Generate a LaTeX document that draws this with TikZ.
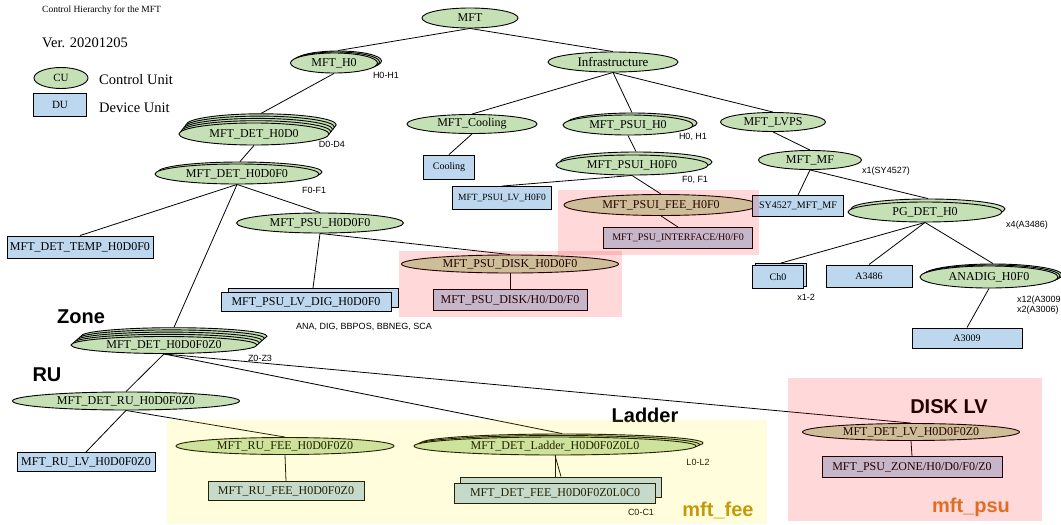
\documentclass[tikz,border=0pt]{standalone}
\usepackage{fontspec}
\setmainfont{Liberation Serif}
\newfontfamily\labelsans{Liberation Sans}
\usetikzlibrary{shapes.geometric}

\definecolor{cugreen}{HTML}{C5E0B4}
\definecolor{dublue}{HTML}{BDD7EE}
\definecolor{feegold}{HTML}{C49A0C}
\definecolor{psuorange}{HTML}{DF6E22}

\pgfdeclarelayer{background}
\pgfdeclarelayer{foreground}
\pgfsetlayers{background,main,foreground}

\tikzset{
  sz/.style 2 args={minimum width=#1pt, minimum height=#2pt},
  cu/.style={ellipse, draw=black, fill=cugreen, line width=0.9pt, inner sep=0pt,
             font=\fontsize{12}{12}\selectfont},
  du/.style={rectangle, draw=black, fill=dublue, line width=0.9pt, inner sep=0pt,
             font=\fontsize{12}{12}\selectfont},
  dusmall/.style={du, font=\fontsize{10}{10}\selectfont},
  link/.style={draw=black, line width=0.8pt},
  tag/.style={font=\labelsans\fontsize{9}{9}\selectfont, inner sep=0pt},
  level/.style={font=\labelsans\bfseries\fontsize{20}{20}\selectfont, inner sep=0pt},
  legendtxt/.style={anchor=west, inner sep=0pt, font=\fontsize{14.5}{14.5}\selectfont},
  pinkveil/.style={fill=red, fill opacity=0.15, draw=none},
  yellowveil/.style={fill=yellow, fill opacity=0.14, draw=none},
}

\begin{document}
\begin{tikzpicture}[x=1pt, y=-1pt]
\useasboundingbox (0,0) rectangle (1061,525);
\begin{pgfonlayer}{background}
  \fill[white] (0,0) rectangle (1061,525);
\end{pgfonlayer}

% ---------- heading and legend ----------
\node[anchor=west, inner sep=0pt, font=\fontsize{9.5}{9.5}\selectfont] (title) at (42,10) {Control Hierarchy for the MFT};
\node[legendtxt] (ver) at (42,43) {Ver. 20201205};
\node[cu, sz={54}{21}, font=\fontsize{11}{11}\selectfont] (legcu) at (61,78) {CU};
\node[legendtxt] (legcutxt) at (99,80) {Control Unit};
\node[du, sz={53}{23}, font=\fontsize{11}{11}\selectfont] (legdu) at (60,105) {DU};
\node[legendtxt] (legdutxt) at (99,108) {Device Unit};

% ---------- top of the tree ----------
\node[cu, sz={96}{20}] (mft) at (470,18) {MFT};

\node[cu, sz={87}{20}] (h0b2) at (338,61) {};
\node[cu, sz={87}{20}] (h0b1) at (336,62) {};
\node[cu, sz={87}{20}] (h0) at (334,63) {MFT\_H0};
\node[tag] (h0tag) at (386,75) {H0-H1};

\node[cu, sz={130}{20}, font=\fontsize{13}{13}\selectfont] (infra) at (613,62) {Infrastructure};

% ---------- detector branch ----------
\foreach \k in {4,3,2,1}{
  \node[cu, sz={150}{22}] (dh0d0b\k) at ({254+1.8*\k},{134-2.3*\k}) {};
}
\node[cu, sz={150}{22}] (dh0d0) at (254,134) {MFT\_DET\_H0D0};
\node[tag] (dh0d0tag) at (332,144) {D0-D4};

\node[cu, sz={164}{20}] (dh0d0f0b1) at (240,172) {};
\node[cu, sz={164}{20}] (dh0d0f0) at (237,174) {MFT\_DET\_H0D0F0};
\node[tag] (dh0d0f0tag) at (314,190) {F0-F1};

\node[du, sz={146}{22}] (temp) at (80,247) {MFT\_DET\_TEMP\_H0D0F0};
\node[cu, sz={167}{20}] (psuh) at (320,223) {MFT\_PSU\_H0D0F0};

\node[du, sz={170}{19}] (lvdigb) at (313,298) {};
\node[du, sz={170}{19}] (lvdig) at (306,302) {MFT\_PSU\_LV\_DIG\_H0D0F0};
\node[tag] (lvdigtag) at (364,327) {ANA, DIG, BBPOS, BBNEG, SCA};

\node[cu, sz={217}{18}] (psudisk) at (510,264) {MFT\_PSU\_DISK\_H0D0F0};
\node[du, sz={154}{21}] (psudiskbox) at (510,300) {MFT\_PSU\_DISK/H0/D0/F0};

\node[level] (zonelbl) at (81,317) {Zone};
\foreach \k in {4,3,2,1}{
  \node[cu, sz={186}{17}] (zoneb\k) at ({164+2.5*\k},{345-2.2*\k}) {};
}
\node[cu, sz={186}{17}] (zone) at (164,345) {MFT\_DET\_H0D0F0Z0};
\node[tag] (zonetag) at (260,358) {Z0-Z3};

\node[level] (rulbl) at (47,375) {RU};
\node[cu, sz={227}{18}] (ru) at (126,401) {MFT\_DET\_RU\_H0D0F0Z0};
\node[du, sz={138}{19}] (rulv) at (86,462) {MFT\_RU\_LV\_H0D0F0Z0};

\node[cu, sz={218}{17}] (rufee) at (285,446) {MFT\_RU\_FEE\_H0D0F0Z0};
\node[du, sz={156}{19}] (rufeebox) at (286,491) {MFT\_RU\_FEE\_H0D0F0Z0};

\node[level] (ladderlbl) at (645,415) {Ladder};
\node[cu, sz={282}{18}] (ladderb2) at (562,443) {};
\node[cu, sz={282}{18}] (ladderb1) at (558.5,444.5) {};
\node[cu, sz={282}{18}] (ladder) at (555,446) {MFT\_DET\_Ladder\_H0D0F0Z0L0};
\node[tag] (laddertag) at (698,462) {L0-L2};
\node[du, sz={201}{20}] (detfeeb) at (561,487) {};
\node[du, sz={201}{20}] (detfee) at (555,493) {MFT\_DET\_FEE\_H0D0F0Z0L0C0};
\node[tag] (detfeetag) at (641,512) {C0-C1};

\node[level] (disklvlbl) at (949,407) {DISK LV};
\node[cu, sz={217}{17}] (detlv) at (911,432) {MFT\_DET\_LV\_H0D0F0Z0};
\node[du, sz={180}{21}] (psuzone) at (912,467) {MFT\_PSU\_ZONE/H0/D0/F0/Z0};

% ---------- infrastructure branch ----------
\node[cu, sz={130}{19}] (cooling) at (472,124) {MFT\_Cooling};
\node[dusmall, sz={51}{24}] (coolbox) at (449,167) {Cooling};

\node[cu, sz={130}{20}] (psuih0b) at (632,123) {};
\node[cu, sz={130}{20}] (psuih0) at (628,125) {MFT\_PSUI\_H0};
\node[tag] (psuih0tag) at (693,137) {H0, H1};

\node[cu, sz={152}{20}] (psuih0f0b) at (636,162) {};
\node[cu, sz={152}{20}] (psuih0f0) at (632,165) {MFT\_PSUI\_H0F0};
\node[tag] (psuih0f0tag) at (695,180) {F0, F1};

\node[du, sz={99}{23}, font=\fontsize{9.5}{9.5}\selectfont] (psuilv) at (502,198) {MFT\_PSUI\_LV\_H0F0};
\node[cu, sz={194}{21}] (psuifee) at (661,205) {MFT\_PSUI\_FEE\_H0F0};
\node[dusmall, sz={149}{21}] (iface) at (678,238) {MFT\_PSU\_INTERFACE/H0/F0};

\node[cu, sz={105}{19}] (lvps) at (773,122) {MFT\_LVPS};
\node[cu, sz={103}{19}] (mf) at (810,160) {MFT\_MF};
\node[tag] (mftag) at (886,171) {x1(SY4527)};
\node[dusmall, sz={91}{21}] (sy) at (798,206) {SY4527\_MFT\_MF};

\node[cu, sz={154}{20}] (pgb) at (928,209) {};
\node[cu, sz={154}{20}] (pg) at (925,212) {PG\_DET\_H0};
\node[tag] (pgtag) at (1027,225) {x4(A3486)};

\node[dusmall, sz={51}{23}] (ch0b) at (781,275) {};
\node[dusmall, sz={51}{23}] (ch0) at (778,277) {Ch0};
\node[tag] (ch0tag) at (806,297) {x1-2};
\node[dusmall, sz={86}{22}] (a3486) at (869,276) {A3486};

\node[cu, sz={138}{22}] (anadigb2) at (993,275) {};
\node[cu, sz={138}{22}] (anadigb1) at (991,276) {};
\node[cu, sz={138}{22}] (anadig) at (989,277) {ANADIG\_H0F0};
\node[tag, anchor=west] (anadigtag1) at (1017,300) {x12(A3009};
\node[tag, anchor=west] (anadigtag2) at (1017,310) {x2(A3006)};
\node[dusmall, sz={110}{20}] (a3009) at (967,338) {A3009};

% ---------- connectors ----------
\begin{pgfonlayer}{background}
  \draw[link] (mft.south) -- (h0b2.north);
  \draw[link] (mft.south) -- (infra.north);
  \draw[link] (h0.south) -- (dh0d0b4.north);
  \draw[link] (dh0d0.south) -- (dh0d0f0b1.north);
  \draw[link] (dh0d0f0.south) -- (temp.north);
  \draw[link] (dh0d0f0.south) -- (psuh.north);
  \draw[link] (dh0d0f0.south) -- (zoneb4.north);
  \draw[link] (psuh.south) -- (lvdigb.north);
  \draw[link] (psuh.south) -- (psudisk.north);
  \draw[link] (psudisk.south) -- (psudiskbox.north);
  \draw[link] (zone.south) -- (ru.north);
  \draw[link] (zone.south) -- (ladderb2.north);
  \draw[link] (zone.south) -- (detlv.north);
  \draw[link] (ru.south) -- (rulv.north);
  \draw[link] (ru.south) -- (rufee.north);
  \draw[link] (rufee.south) -- (rufeebox.north);
  \draw[link] (ladder.south) -- (detfee.north);
  \draw[link] (ladder.south) -- (detfeeb.north);
  \draw[link] (detlv.south) -- (psuzone.north);
  \draw[link] (infra.south) -- (cooling.north);
  \draw[link] (infra.south) -- (psuih0b.north);
  \draw[link] (infra.south) -- (lvps.north);
  \draw[link] (cooling.south) -- (coolbox.north);
  \draw[link] (psuih0.south) -- (psuih0f0b.north);
  \draw[link] (psuih0f0.south) -- (psuilv.north);
  \draw[link] (psuih0f0.south) -- (psuifee.north);
  \draw[link] (psuifee.south) -- (iface.north);
  \draw[link] (lvps.south) -- (mf.north);
  \draw[link] (mf.south) -- (sy.north);
  \draw[link] (mf.south) -- (pgb.north);
  \draw[link] (pg.south) -- (ch0b.north);
  \draw[link] (pg.south) -- (a3486.north);
  \draw[link] (pg.south) -- (anadigb2.north);
  \draw[link] (anadig.south) -- (a3009.north);
\end{pgfonlayer}

% ---------- tinted groups ----------
\begin{pgfonlayer}{foreground}
  \fill[pinkveil] (558,190) rectangle (759,255);
  \fill[pinkveil] (399,251) rectangle (622,317);
  \fill[pinkveil] (788,378) rectangle (1042,521);
  \fill[yellowveil] (167,420) rectangle (767,524);
  \node[level, text=feegold] (feelbl) at (718,510) {mft\_fee};
  \node[level, text=psuorange] (psulbl) at (971,507) {mft\_psu};
\end{pgfonlayer}
\end{tikzpicture}
\end{document}
